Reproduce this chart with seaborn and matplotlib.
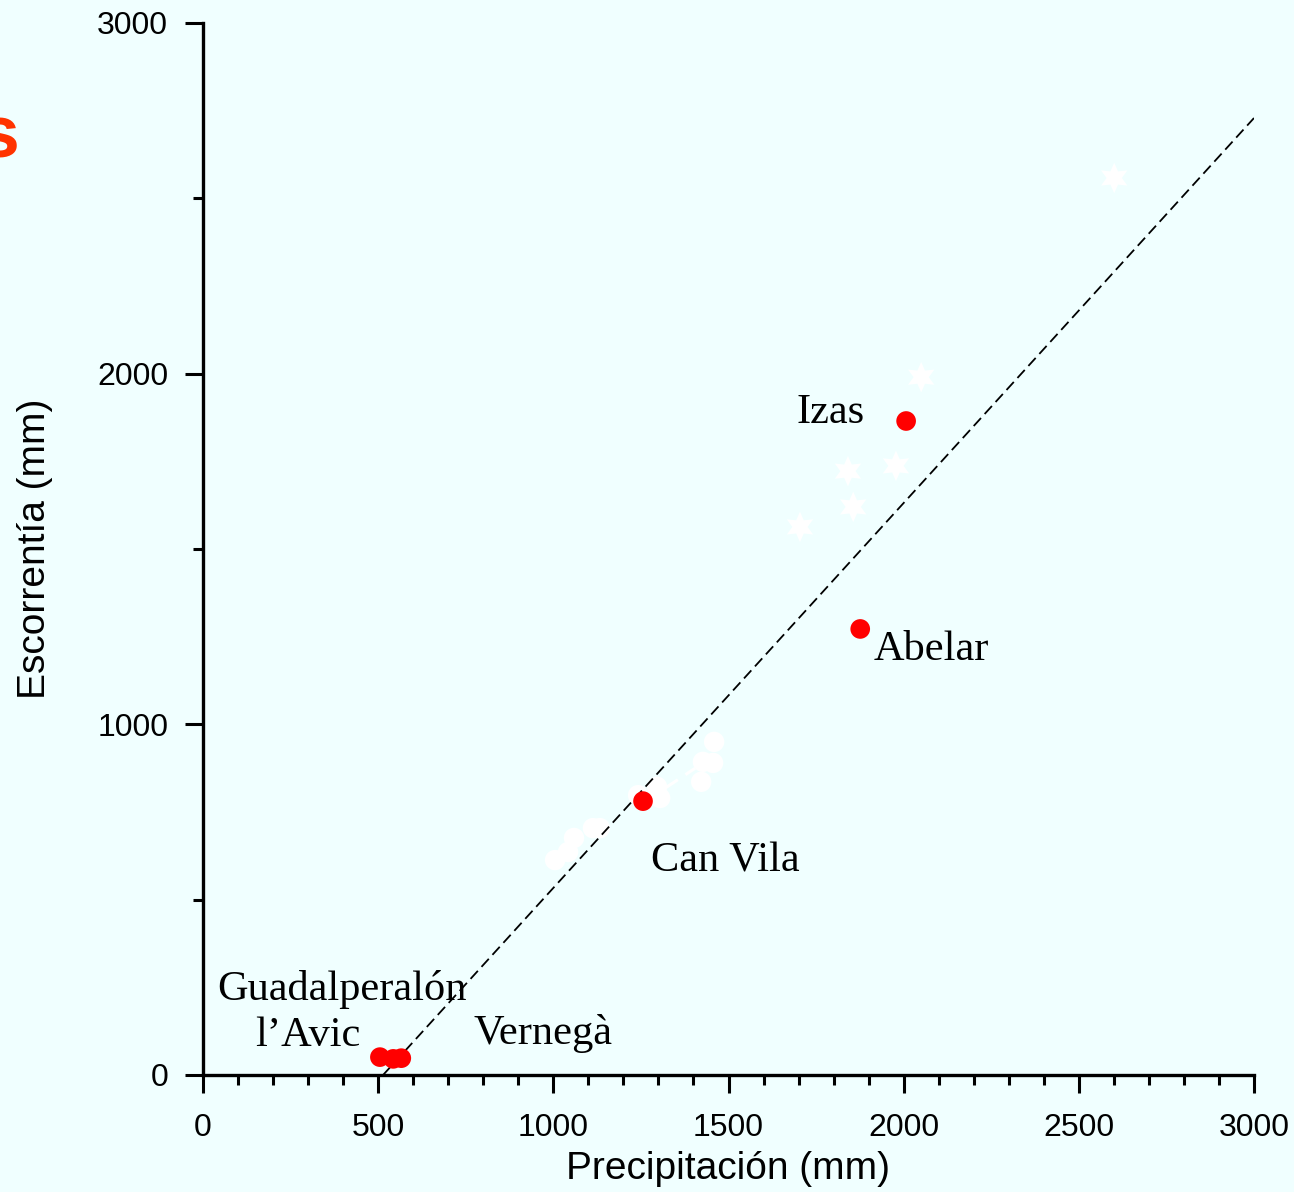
import matplotlib
matplotlib.use("Agg")
import matplotlib.pyplot as plt
import pandas as pd
import seaborn as sns
from matplotlib.ticker import MultipleLocator

# Experimental catchments (highlighted)
site_names = ["Izas", "Abelar", "Can Vila", "Guadalperalón", "l’Avic", "Vernegà"]
site_precip = [2007, 1876, 1256, 505, 543, 566]
site_runoff = [1865, 1272, 781, 51, 46, 48]

# Other catchments, round markers
other_precip = [1459, 1427, 1456, 1422, 1296, 1305, 1242, 1133, 1113, 1059, 1042, 1005]
other_runoff = [950, 893, 890, 836, 822, 790, 798, 704, 704, 676, 636, 613]

# Other catchments, star markers
star_precip = [2601, 2050, 1841, 1978, 1856, 1704]
star_runoff = [2558, 1990, 1722, 1737, 1620, 1563]

# Short connector between two of the round markers
link_precip = [1319, 1405]
link_runoff = [818, 875]

# Regression line end points
fit_precip = [514, 3000]
fit_runoff = [0, 2729]

# Label anchor points (left edge, baseline) in data units
label_x = [1693, 1913, 1279, 40, 148, 771]
label_y = [1859, 1183, 579, 214, 83, 88]

bg = "#F0FFFF"
sns.set_theme(style="ticks", rc={"axes.facecolor": bg, "figure.facecolor": bg})
plt.rcParams["font.family"] = ["Liberation Sans", "DejaVu Sans"]

sites = pd.DataFrame({"P": site_precip, "Q": site_runoff, "name": site_names})
others = pd.DataFrame({"P": other_precip, "Q": other_runoff})
stars = pd.DataFrame({"P": star_precip, "Q": star_runoff})

fig = plt.figure(figsize=(12.94, 11.92), dpi=100)
ax = fig.add_axes([203 / 1294, 117 / 1192, 1051 / 1294, 1052 / 1192])
ax.set_facecolor(bg)

sns.lineplot(x=fit_precip, y=fit_runoff, ax=ax, color="black", lw=1.3,
             linestyle=(0, (6, 3)), zorder=4)
sns.lineplot(x=link_precip, y=link_runoff, ax=ax, color="white", lw=2.2,
             linestyle=(0, (5, 3)), zorder=2)
sns.scatterplot(data=others, x="P", y="Q", ax=ax, color="white", s=215,
                marker="o", edgecolor="none", linewidth=0, zorder=3)
sns.scatterplot(data=stars, x="P", y="Q", ax=ax, color="white", s=480,
                marker=(6, 1, 0), edgecolor="none", linewidth=0, zorder=3)
sns.scatterplot(data=sites, x="P", y="Q", ax=ax, color="#FF0000", s=200,
                marker="o", edgecolor="none", linewidth=0, zorder=5)

for name, lx, ly in zip(site_names, label_x, label_y):
    ax.text(lx, ly, name, fontsize=30.5, family=["Liberation Serif", "DejaVu Serif"],
            ha="left", va="baseline", color="black", zorder=6)

ax.set_xlim(0, 3000)
ax.set_ylim(0, 3000)
ax.xaxis.set_major_locator(MultipleLocator(500))
ax.xaxis.set_minor_locator(MultipleLocator(100))
ax.yaxis.set_major_locator(MultipleLocator(1000))
ax.yaxis.set_minor_locator(MultipleLocator(500))

ax.tick_params(axis="both", which="major", length=13, width=2.2, color="black",
               labelsize=23, labelcolor="black")
ax.tick_params(axis="both", which="minor", length=7, width=2.2, color="black")
ax.tick_params(axis="x", which="major", pad=14)
ax.tick_params(axis="y", which="major", pad=12)

for side in ("top", "right"):
    ax.spines[side].set_visible(False)
for side in ("left", "bottom"):
    ax.spines[side].set_linewidth(2.4)
    ax.spines[side].set_color("black")

ax.set_xlabel("Precipitación (mm)", fontsize=28, color="black", labelpad=6)
ax.set_ylabel("Escorrentía (mm)", fontsize=28, color="black", labelpad=32)

# Fragment of the slide title at the left edge
fig.text(-23 / 1294, 1 - 157 / 1192, "s", fontsize=54, fontweight="bold",
         color="#FF3300", ha="left", va="baseline")

fig.savefig("out.png", dpi=100, facecolor=bg)
